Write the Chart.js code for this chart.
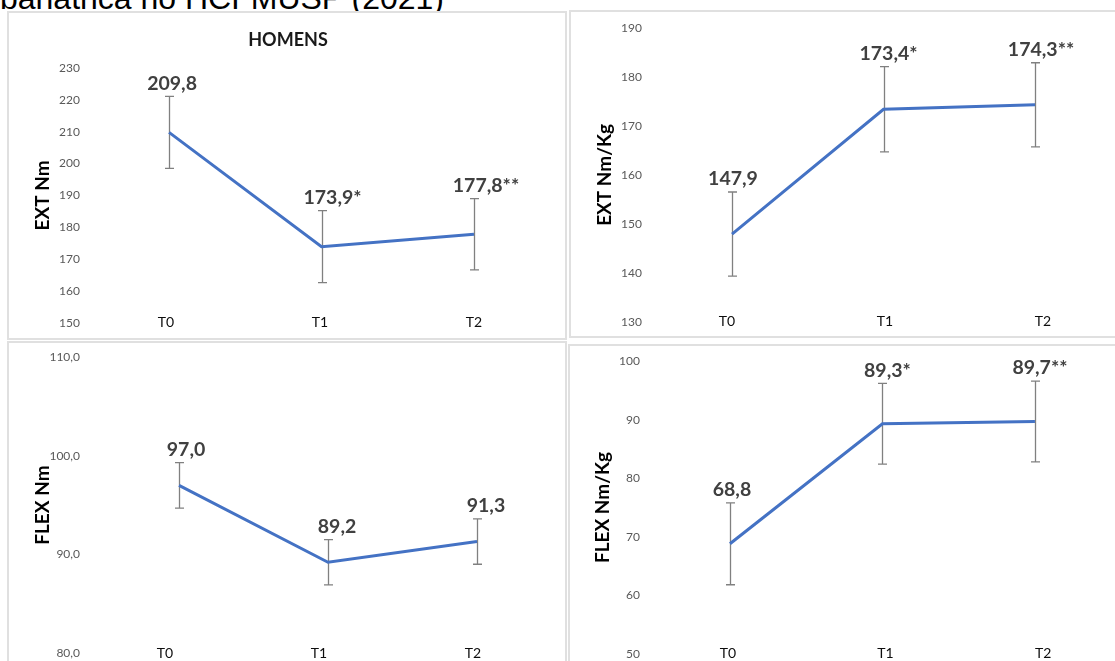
<!DOCTYPE html>
<html><head><meta charset="utf-8">
<script src="https://cdn.jsdelivr.net/npm/chart.js@4.4.1/dist/chart.umd.min.js"></script>
<style>
html,body{margin:0;padding:0;background:#fff;width:1115px;height:661px;overflow:hidden;position:relative;}
.panel{position:absolute;border:2px solid #e0e0e0;box-sizing:border-box;background:#fff;}
.cw{position:absolute;}
#cap{position:absolute;left:0;top:-18px;font-family:"Liberation Sans",Arial,sans-serif;font-size:32px;line-height:32px;color:#000;white-space:nowrap;}
</style></head><body>
<div id="cap">bariátrica no HCFMUSP (2021)</div>
<div class="panel" style="left:7px;top:11px;width:560px;height:329px"></div>
<div class="panel" style="left:569px;top:10px;width:560px;height:328px"></div>
<div class="panel" style="left:7px;top:341px;width:560px;height:330px"></div>
<div class="panel" style="left:568px;top:344px;width:560px;height:330px"></div>
<div class="cw" style="left:8px;top:12px"><canvas id="c1" width="558" height="327"></canvas></div>
<div class="cw" style="left:570px;top:11px"><canvas id="c2" width="560" height="326"></canvas></div>
<div class="cw" style="left:8px;top:342px"><canvas id="c3" width="558" height="328"></canvas></div>
<div class="cw" style="left:569px;top:345px"><canvas id="c4" width="561" height="325"></canvas></div>
<script>
// ---- data ----
const categories = ['T0', 'T1', 'T2'];

const extNm = [209.8, 173.9, 177.8];
const extNmErr = [11.3, 11.3, 11.2];
const extNmLabels = ['209,8', '173,9*', '177,8**'];
const extNmTicks = [150, 160, 170, 180, 190, 200, 210, 220, 230];

const extNmKg = [147.9, 173.4, 174.3];
const extNmKgErr = [8.6, 8.7, 8.6];
const extNmKgLabels = ['147,9', '173,4*', '174,3**'];
const extNmKgTicks = [130, 140, 150, 160, 170, 180, 190];

const flexNm = [97.0, 89.2, 91.3];
const flexNmErr = [2.3, 2.3, 2.3];
const flexNmLabels = ['97,0', '89,2', '91,3'];
const flexNmTicks = [80, 90, 100, 110];

const flexNmKg = [68.8, 89.3, 89.7];
const flexNmKgErr = [7.0, 6.9, 6.9];
const flexNmKgLabels = ['68,8', '89,3*', '89,7**'];
const flexNmKgTicks = [50, 60, 70, 80, 90, 100];

Chart.defaults.font.family = 'Lato, "Open Sans", sans-serif';

const errPlugin = {
  id: 'errBars',
  beforeDatasetsDraw(chart, args, o) {
    const ctx = chart.ctx, xs = chart.scales.xv, ys = chart.scales.y;
    ctx.save();
    ctx.strokeStyle = '#808080';
    ctx.lineWidth = 1.3;
    o.values.forEach((v, i) => {
      const x = Math.round(xs.getPixelForValue(i)) + 0.5;
      const yt = ys.getPixelForValue(v + o.err[i]);
      const yb = ys.getPixelForValue(v - o.err[i]);
      ctx.beginPath();
      ctx.moveTo(x, yt); ctx.lineTo(x, yb);
      ctx.moveTo(x - 4.5, yt); ctx.lineTo(x + 4.5, yt);
      ctx.moveTo(x - 4.5, yb); ctx.lineTo(x + 4.5, yb);
      ctx.stroke();
    });
    ctx.restore();
  },
  afterDatasetsDraw(chart, args, o) {
    const ctx = chart.ctx, xs = chart.scales.xv, ys = chart.scales.y;
    ctx.save();
    ctx.fillStyle = '#404040';
    ctx.font = 'bold 19.5px Lato, "Open Sans", sans-serif';
    ctx.textAlign = 'center';
    ctx.textBaseline = 'middle';
    o.values.forEach((v, i) => {
      const x = xs.getPixelForValue(i) + o.dx[i];
      const yt = ys.getPixelForValue(v + o.err[i]);
      ctx.fillText(o.labels[i], x, yt - 13);
    });
    ctx.restore();
  }
};

function make(id, cfg) {
  const ticks = cfg.ticks;
  new Chart(document.getElementById(id), {
    type: 'line',
    data: {
      labels: categories,
      datasets: [{
        data: cfg.values.map((v, i) => ({x: i, y: v})),
        xAxisID: 'xv', yAxisID: 'y',
        borderColor: '#4472C4', borderWidth: 3,
        pointRadius: 0, pointHoverRadius: 0, fill: false, tension: 0
      }]
    },
    options: {
      responsive: false, animation: false, devicePixelRatio: 1,
      layout: {padding: cfg.pad},
      plugins: {
        legend: {display: false}, tooltip: {enabled: false},
        title: cfg.title ? {
          display: true, text: cfg.title, color: '#1a1a1a',
          font: {size: 18, weight: 'bold'},
          padding: {top: 17.2, bottom: 17.2}
        } : {display: false},
        errBars: {values: cfg.values, err: cfg.err, labels: cfg.labels, dx: cfg.dx}
      },
      scales: {
        x: {
          type: 'category', offset: true, position: 'bottom',
          grid: {display: false, drawTicks: false}, border: {display: false},
          ticks: {mirror: true, padding: -8.4, color: '#0d0d0d', font: {size: 14}},
          afterFit: s => { s.height = 0; }
        },
        xv: {type: 'linear', display: false, min: cfg.xr[0], max: cfg.xr[1]},
        y: {
          type: 'linear', position: 'left',
          min: ticks[0], max: ticks[ticks.length - 1],
          grid: {display: false, drawTicks: false}, border: {display: false},
          ticks: {stepSize: ticks[1] - ticks[0], padding: cfg.tp, color: '#595959', font: {size: 12},
                  callback: cfg.fmt},
          title: {display: true, text: cfg.ytitle, color: '#000', font: {size: 19, weight: 'bold'},
                  padding: {top: cfg.titlePad, bottom: 0}},
          afterFit: s => { s.width = cfg.yw; }
        }
      }
    },
    plugins: [errPlugin]
  });
}

const intFmt = v => String(v);
const decFmt = v => v.toFixed(1).replace('.', ',');

make('c1', {values: extNm, err: extNmErr, labels: extNmLabels, ticks: extNmTicks,
  title: 'HOMENS', ytitle: 'EXT Nm', fmt: intFmt,
  pad: {left: 17, right: 15, top: 0, bottom: 15.5}, yw: 64, tp: 9, titlePad: 6.3,
  xr: [-0.525, 2.505], dx: [3, 11, 12]});

make('c2', {values: extNmKg, err: extNmKgErr, labels: extNmKgLabels, ticks: extNmKgTicks,
  ytitle: 'EXT Nm/Kg', fmt: intFmt,
  pad: {left: 0, right: 8, top: 17, bottom: 15.3}, yw: 78, tp: 6, titlePad: 23.6,
  xr: [-0.5545, 2.574], dx: [1, 5, 6]});

make('c3', {values: flexNm, err: flexNmErr, labels: flexNmLabels, ticks: flexNmTicks,
  ytitle: 'FLEX Nm', fmt: decFmt,
  pad: {left: 0, right: 16, top: 15, bottom: 17}, yw: 80, tp: 8, titlePad: 23.3,
  xr: [-0.611, 2.49], dx: [7, 9, 9]});

make('c4', {values: flexNmKg, err: flexNmKgErr, labels: flexNmKgLabels, ticks: flexNmKgTicks,
  ytitle: 'FLEX Nm/Kg', fmt: intFmt,
  pad: {left: 0, right: 8, top: 16, bottom: 16}, yw: 80, tp: 9, titlePad: 22.6,
  xr: [-0.531, 2.571], dx: [2, 5, 5]});
</script>
</body></html>
